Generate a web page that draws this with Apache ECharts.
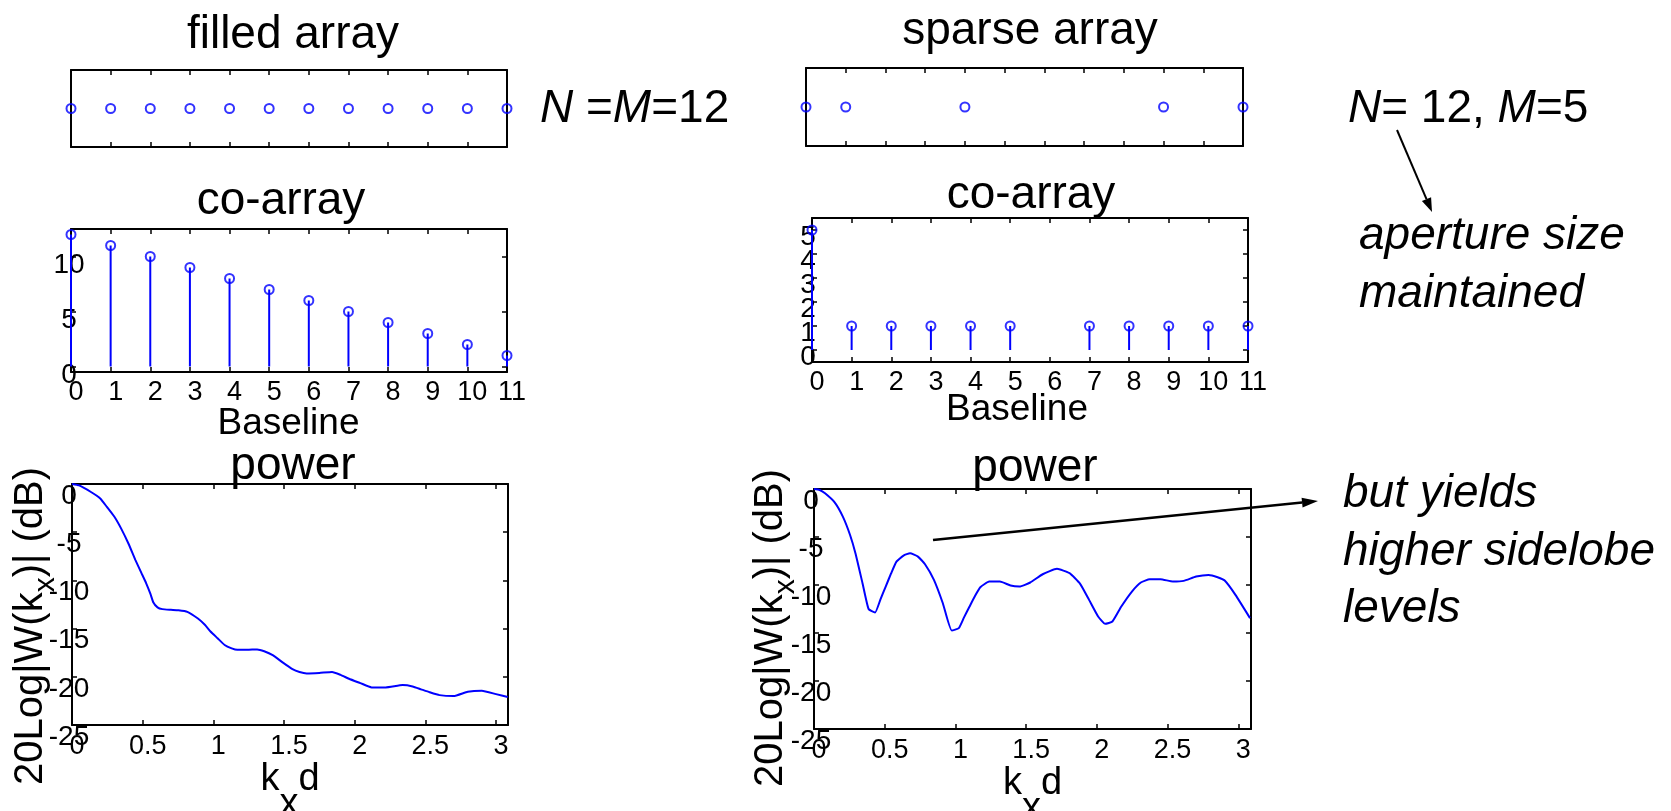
<!DOCTYPE html>
<html><head><meta charset="utf-8">
<script src="https://cdn.jsdelivr.net/npm/echarts@6/dist/echarts.min.js"></script>
<style>html,body{margin:0;padding:0;background:#fff}#c{width:1671px;height:811px}</style>
</head><body><div id="c"></div>
<script>
// ---------------- data ----------------
const filledPositions = [0,1,2,3,4,5,6,7,8,9,10,11];
const sparsePositions = [0,1,4,9,11];
const filledBaselines = [0,1,2,3,4,5,6,7,8,9,10,11];
const filledCoarray   = [12,11,10,9,8,7,6,5,4,3,2,1];
const sparseBaselines = [0,1,2,3,4,5,7,8,9,10,11];
const sparseCoarray   = [5,1,1,1,1,1,1,1,1,1,1];
const filledPowerKx = [0,0.05,0.134,0.2,0.247,0.3,0.348,0.4,0.449,0.49,0.525,0.555,0.576,0.605,0.639,0.7,0.753,0.816,0.891,0.94,0.98,1.03,1.08,1.13,1.17,1.24,1.31,1.36,1.42,1.49,1.56,1.61,1.66,1.75,1.84,1.9,1.96,2.04,2.12,2.22,2.34,2.41,2.47,2.53,2.6,2.7,2.8,2.9,3.0,3.083];
const filledPowerDb = [0,-0.15,-0.83,-1.5,-2.38,-3.4,-4.63,-6.2,-7.9,-9.2,-10.3,-11.4,-12.3,-12.8,-12.98,-13.05,-13.1,-13.26,-13.95,-14.6,-15.3,-16.0,-16.7,-17.05,-17.2,-17.2,-17.16,-17.35,-17.75,-18.5,-19.2,-19.5,-19.65,-19.6,-19.5,-19.8,-20.2,-20.65,-21.1,-21.1,-20.86,-21.0,-21.3,-21.6,-21.9,-22.0,-21.55,-21.44,-21.8,-22.1];
const sparsePowerKx = [0,0.04,0.078,0.146,0.204,0.255,0.293,0.343,0.386,0.432,0.47,0.507,0.545,0.583,0.633,0.679,0.735,0.785,0.848,0.911,0.974,1.024,1.06,1.1,1.14,1.176,1.239,1.315,1.39,1.453,1.529,1.617,1.718,1.807,1.882,1.945,2.009,2.059,2.11,2.173,2.248,2.311,2.374,2.45,2.538,2.614,2.702,2.79,2.854,2.904,2.98,3.083];
const sparsePowerDb = [0,-0.1,-0.45,-1.39,-2.88,-4.79,-6.69,-9.81,-12.5,-12.86,-11.5,-10.16,-8.8,-7.56,-6.93,-6.69,-7.04,-7.84,-9.47,-11.9,-14.74,-14.49,-13.4,-12.24,-11.1,-10.23,-9.64,-9.64,-10.06,-10.16,-9.74,-8.88,-8.32,-8.77,-9.88,-11.55,-13.28,-14.04,-13.8,-12.24,-10.68,-9.74,-9.4,-9.4,-9.64,-9.57,-9.12,-8.95,-9.19,-9.54,-11.03,-13.45];
const baselineTicks = [0,1,2,3,4,5,6,7,8,9,10,11];
const kxTicks = [0,0.5,1,1.5,2,2.5,3];
const dbTicks = [-25,-20,-15,-10,-5,0];
const filledCoTicks = [0,5,10];
const sparseCoTicks = [0,1,2,3,4,5];
const sparseCoLabelsA = [0,2,4];
const sparseCoLabelsB = [1,3,5];

// ---------------- styling ----------------
const FONT = "'Liberation Sans', Arial, Helvetica, sans-serif";
const BLUE = '#0000ff';
const grids = [
  {left:71,  top:70,  width:436, height:77},   // filled array
  {left:806, top:68,  width:437, height:78},   // sparse array
  {left:71,  top:229, width:436, height:143},  // co-array filled
  {left:812, top:218, width:436, height:144},  // co-array sparse
  {left:72,  top:484, width:436, height:241},  // power filled
  {left:814, top:489, width:437, height:240}   // power sparse
].map(g => Object.assign({outerBoundsMode:'none', containLabel:false}, g));

const lineStyle = {color:'#000', width:2};
function tick(values, show){ return {show: show, inside:true, length:5, customValues: values, lineStyle:{color:'#000', width:1.5}}; }
const xAxes = [], yAxes = [];
function box(gi, xr, yr, xt, yt, cfg){
  cfg = cfg || {};
  const xl = Object.assign({show:false}, cfg.xLabel || {});
  const yl = Object.assign({show:false}, cfg.yLabel || {});
  const yrl = Object.assign({show:false}, cfg.yRightLabel || {});
  xAxes.push(Object.assign({type:'value', gridIndex:gi, position:'bottom', min:xr[0], max:xr[1], nameMoveOverlap:false,
    axisLine:{show:true, onZero:false, lineStyle}, axisTick:tick(xt, true), splitLine:{show:false},
    axisLabel: Object.assign({customValues:xt, color:'#000', fontFamily:FONT, fontSize:27, showMinLabel:true, showMaxLabel:true}, xl)}, cfg.xName || {}));
  xAxes.push({type:'value', gridIndex:gi, position:'top', min:xr[0], max:xr[1],
    axisLine:{show:true, onZero:false, lineStyle}, axisTick:tick(xt, true), splitLine:{show:false}, axisLabel:{show:false}});
  yAxes.push({type:'value', gridIndex:gi, position:'left', min:yr[0], max:yr[1],
    axisLine:{show:true, onZero:false, lineStyle}, axisTick:tick(yt || [], !!yt), splitLine:{show:false},
    axisLabel: Object.assign({customValues:yt || [], color:'#000', fontFamily:FONT, fontSize:28, showMinLabel:true, showMaxLabel:true}, yl)});
  yAxes.push({type:'value', gridIndex:gi, position:'right', min:yr[0], max:yr[1],
    axisLine:{show:true, onZero:false, lineStyle}, axisTick:tick(yt || [], !!yt), splitLine:{show:false},
    axisLabel: Object.assign({color:'#000', fontFamily:FONT, fontSize:28, showMinLabel:true, showMaxLabel:true}, yrl)});
}
const xLab = m => ({show:true, verticalAlign:'middle', margin:m, padding:[0,0,0,10]});
// labels drawn centred on the axis line and pushed below their tick, as in the original
const yLabDown = (m, off, vals) => Object.assign({show:true, align:'center', verticalAlign:'top', lineHeight:2*off, margin:m}, vals ? {customValues:vals} : {});
const baselineName = (gap, shift) => ({name:'{b|Baseline}{p| }', nameLocation:'middle', nameGap:gap,
  nameTextStyle:{align:'center', verticalAlign:'middle',
    rich:{b:{fontFamily:FONT, fontSize:37, color:'#000'}, p:{fontSize:10, width:shift}}}});
const kxName = {name:'{m|k}{s|x}{m|d}', nameLocation:'middle', nameGap:58,
  nameTextStyle:{align:'center', verticalAlign:'middle',
    rich:{m:{fontFamily:FONT, fontSize:38, color:'#000', lineHeight:44, verticalAlign:'top'},
          s:{fontFamily:FONT, fontSize:38, color:'#000', lineHeight:44, verticalAlign:'top', padding:[25,0,0,0]}}}};

box(0, [0,11], [-1,1], baselineTicks, null);
box(1, [0,11], [-1,1], baselineTicks, null);
box(2, [0,11], [-0.5,12.5], baselineTicks, filledCoTicks, {xLabel:xLab(21), yLabel:yLabDown(2,9), xName:baselineName(52,1)});
// sparse co-array: labels 0,2,4 on the left axis, 1,3,5 drawn by the mirror axis at the same left edge
box(3, [0,11], [-0.5,5.5], baselineTicks, sparseCoTicks, {xLabel:xLab(21), yLabel:yLabDown(4,7,sparseCoLabelsA),
  yRightLabel:yLabDown(-440,7,sparseCoLabelsB), xName:baselineName(48,26)});
box(4, [0,3.085], [-25,0], kxTicks, dbTicks, {xLabel:xLab(22), yLabel:yLabDown(3,12), xName:kxName});
box(5, [0,3.09], [-25,0], kxTicks, dbTicks, {xLabel:xLab(22), yLabel:yLabDown(3,12), xName:kxName});

const markerStyle = {color:'rgba(0,0,0,0)', borderColor:BLUE, borderWidth:2};
function markers(gi, xs, ys){
  return {type:'scatter', xAxisIndex:2*gi, yAxisIndex:2*gi, symbol:'circle', symbolSize:9, clip:false,
    itemStyle:markerStyle, data: xs.map((x,i)=>[x, ys[i]]), z:5};
}
function stems(gi, xs, ys){
  return {type:'bar', xAxisIndex:2*gi, yAxisIndex:2*gi, barWidth:2, clip:false,
    itemStyle:{color:BLUE}, data: xs.map((x,i)=>[x, ys[i]]), z:4};
}
function curve(gi, xs, ys){
  return {type:'line', xAxisIndex:2*gi, yAxisIndex:2*gi, showSymbol:false, symbol:'none', smooth:0.15,
    lineStyle:{color:BLUE, width:2}, data: xs.map((x,i)=>[x, ys[i]]), z:4};
}
const series = [
  markers(0, filledPositions, filledPositions.map(()=>0)),
  markers(1, sparsePositions, sparsePositions.map(()=>0)),
  stems(2, filledBaselines, filledCoarray), markers(2, filledBaselines, filledCoarray),
  stems(3, sparseBaselines, sparseCoarray), markers(3, sparseBaselines, sparseCoarray),
  curve(4, filledPowerKx, filledPowerDb),
  curve(5, sparsePowerKx, sparsePowerDb)
];

// ---------------- annotations ----------------
function txt(text, x, y, size, opts){
  return {type:'text', x, y, z:10, style:Object.assign({text, fontFamily:FONT, fontSize:size, fill:'#000',
    align:'center', verticalAlign:'middle'}, opts || {})};
}
function arrow(x1,y1,x2,y2,w,hl,hw){
  const a = Math.atan2(y2-y1, x2-x1), c = Math.cos(a), s = Math.sin(a);
  const bx = x2 - hl*c, by = y2 - hl*s;
  return [
    {type:'line', z:10, shape:{x1, y1, x2:bx, y2:by}, style:{stroke:'#000', lineWidth:w}},
    {type:'polygon', z:10, shape:{points:[[x2,y2],[bx - hw*s, by + hw*c],[bx + hw*s, by - hw*c]]}, style:{fill:'#000'}}
  ];
}
const dbRich = {m:{fontFamily:FONT, fontSize:40, fill:'#000', lineHeight:46, verticalAlign:'top'},
                s:{fontFamily:FONT, fontSize:30, fill:'#000', lineHeight:36, verticalAlign:'top', padding:[20,0,0,0]}};
function dbLabel(x, y){
  return {type:'text', x, y, rotation:Math.PI/2, z:10,
    style:{text:'{m|20Log|W(k}{s|x}{m|)| (dB)}', align:'center', verticalAlign:'middle', rich:dbRich}};
}
const italicRich = {i:{fontFamily:FONT, fontSize:46, fontStyle:'italic', fill:'#000'}, r:{fontFamily:FONT, fontSize:46, fill:'#000'}};
const graphic = [
  txt('filled array', 293, 35, 46),
  txt('sparse array', 1030, 31, 46),
  txt('co-array', 281, 201, 46),
  txt('co-array', 1031, 195, 46),
  txt('power', 293, 466, 46),
  txt('power', 1035, 468, 46),
  dbLabel(34, 626),
  dbLabel(774, 628),
  txt('{i|N}{r| =}{i|M}{r|=12}', 540, 109, 46, {align:'left', rich:italicRich}),
  txt('{i|N}{r|= 12, }{i|M}{r|=5}', 1348, 109, 46, {align:'left', rich:italicRich}),
  txt('aperture size', 1359, 236, 46, {align:'left', fontStyle:'italic'}),
  txt('maintained', 1359, 294, 46, {align:'left', fontStyle:'italic'}),
  txt('but yields', 1343, 494, 46, {align:'left', fontStyle:'italic'}),
  txt('higher sidelobe', 1343, 552, 46, {align:'left', fontStyle:'italic'}),
  txt('levels', 1343, 609, 46, {align:'left', fontStyle:'italic'})
].concat(arrow(1397,130,1432,212,2,14,5)).concat(arrow(933,540,1318,501,2.5,16,5));

const chart = echarts.init(document.getElementById('c'), null, {renderer:'canvas'});
chart.setOption({
  animation:false,
  backgroundColor:'#fff',
  grid: grids,
  xAxis: xAxes,
  yAxis: yAxes,
  series: series,
  graphic: graphic
});
</script></body></html>
